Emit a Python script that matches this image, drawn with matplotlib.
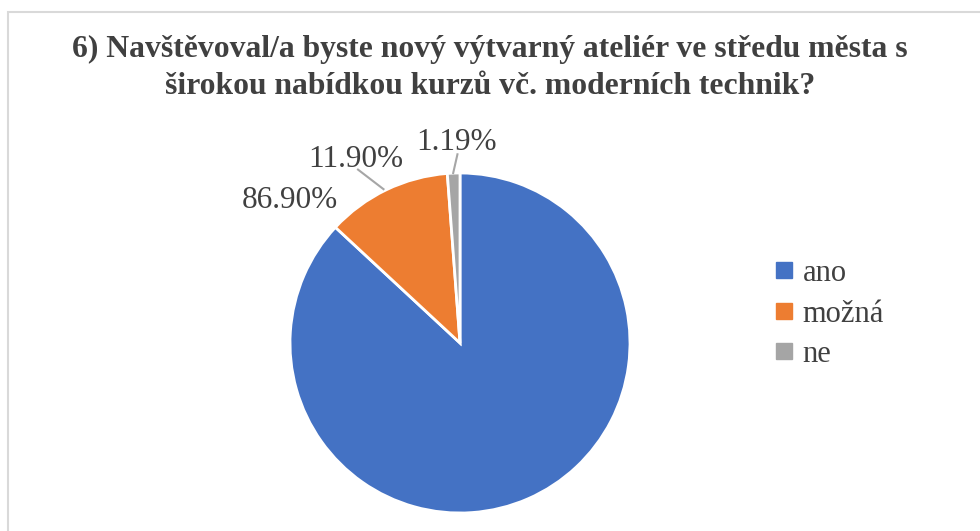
import matplotlib
matplotlib.use("Agg")
import matplotlib.pyplot as plt
from matplotlib.lines import Line2D
from matplotlib.patches import Rectangle

categories = ["ano", "možná", "ne"]
values = [86.90, 11.90, 1.19]
labels = ["86.90%", "11.90%", "1.19%"]
colors = ["#4472C4", "#ED7D31", "#A5A5A5"]
title = "6) Navštěvoval/a byste nový výtvarný ateliér ve středu města s\nširokou nabídkou kurzů vč. moderních technik?"

W, H = 980, 531
fig = plt.figure(figsize=(W / 100, H / 100), dpi=100)
fig.patch.set_facecolor("white")

# border (chart area frame, partially outside the image)
fig.patches.append(Rectangle((8 / W, -0.1), 1.2, (H - 12) / H + 0.1, transform=fig.transFigure,
                             fill=False, edgecolor="#D9D9D9", linewidth=1.5))

serif = ["Liberation Serif", "DejaVu Serif"]
txt_color = "#404040"

fig.text(0.5, (H - 68) / H, title, ha="center", va="center", fontsize=22.8,
         fontweight="bold", family=serif, color=txt_color, linespacing=1.38)

cx, cy, r = 460, 343, 170
ax = fig.add_axes([(cx - r) / W, (H - cy - r) / H, 2 * r / W, 2 * r / H])
wedges, _ = ax.pie(values, colors=colors, startangle=90, counterclock=False,
                   wedgeprops=dict(edgecolor="white", linewidth=2))
ax.set_xlim(-1, 1)
ax.set_ylim(-1, 1)
ax.set_aspect("equal")
ax.axis("off")

# data labels (positions in axes data units)
label_pos = [(-1.0, 0.84), (-0.61, 1.08), (-0.02, 1.18)]
leader_end = [None, (-0.45, 0.905), (-0.04, 1.0)]
leader_start = [None, (-0.6, 1.02), (-0.015, 1.11)]
for lab, pos, ls, le in zip(labels, label_pos, leader_start, leader_end):
    ax.text(pos[0], pos[1], lab, ha="center", va="center", fontsize=22.5,
            family=serif, color=txt_color, clip_on=False)
    if le is not None:
        ax.plot([ls[0], le[0]], [ls[1], le[1]], color="#A6A6A6", linewidth=1.5,
                clip_on=False)

handles = [Line2D([], [], marker="s", linestyle="none", markersize=11,
                  markerfacecolor=c, markeredgecolor=c) for c in colors]
fig.legend(handles, categories, loc="center left",
           bbox_to_anchor=(772 / W, (H - 314) / H), frameon=False,
           prop={"family": serif, "size": 22}, labelcolor=txt_color,
           handlelength=0.8, handletextpad=0.2, labelspacing=0.38,
           borderpad=0, borderaxespad=0)

fig.savefig("out.png", dpi=100)
